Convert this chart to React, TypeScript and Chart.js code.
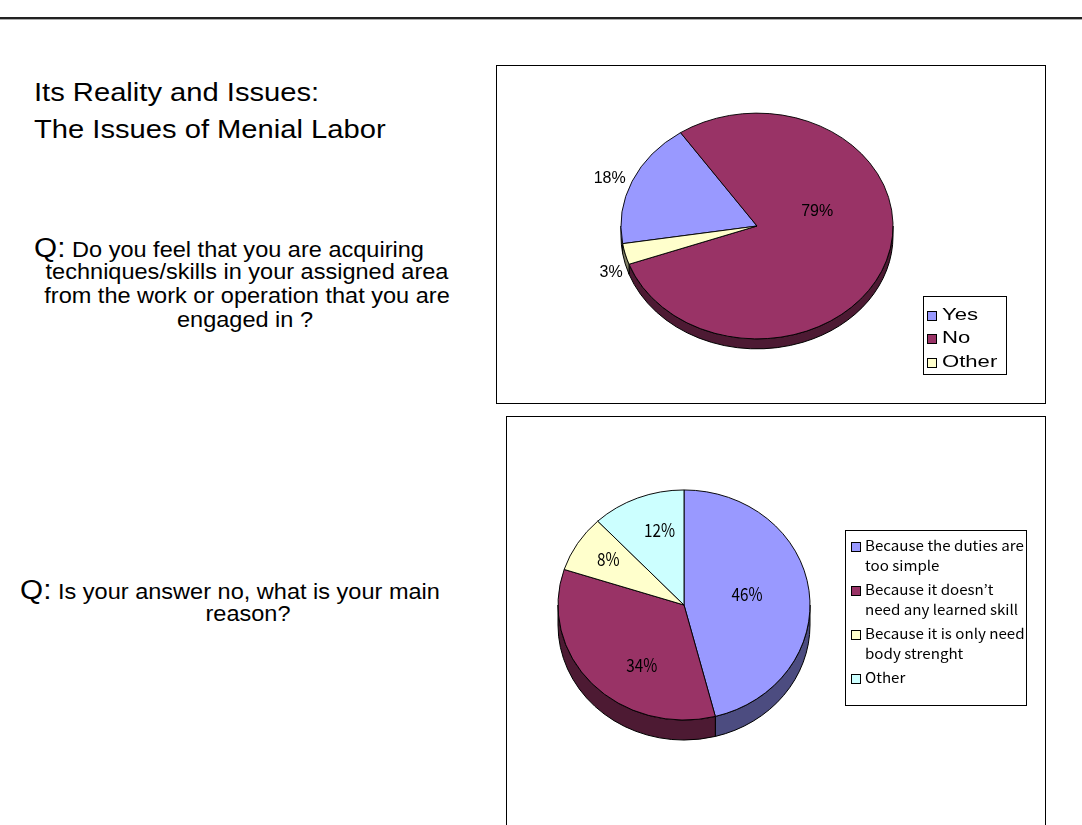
import React, { useEffect, useRef } from 'react';
import { Chart, registerables } from 'chart.js';

Chart.register(...registerables);

// ---------- data ----------
const q1Labels = ['Yes', 'No', 'Other'];
const q1Values = [18, 79, 3];

const q2Labels = [
  'Because the duties are too simple',
  'Because it doesn’t need any learned skill',
  'Because it is only need body strenght',
  'Other',
];
const q2Values = [46, 34, 8, 12];

// ---------- styles ----------
const q1Colors = ['#9999FF', '#993366', '#FFFFCC'];
const q1Sides = ['#4C4C80', '#4D1A33', '#808066'];
const q2Colors = ['#9999FF', '#993366', '#FFFFCC', '#CCFFFF'];
const q2Sides = ['#4C4C80', '#4D1A33', '#808066', '#668080'];

function frontRanges(s: number, e: number): [number, number][] {
  const out: [number, number][] = [];
  for (let n = -2; n <= 3; n++) {
    const lo = Math.max(s, 2 * Math.PI * n);
    const hi = Math.min(e, Math.PI + 2 * Math.PI * n);
    if (hi > lo) out.push([lo, hi]);
  }
  return out;
}

function stretchText(ctx: CanvasRenderingContext2D, text: string, x: number, y: number, sx: number, align: CanvasTextAlign) {
  ctx.save();
  ctx.translate(x, y);
  ctx.scale(sx, 1);
  ctx.textAlign = align;
  ctx.fillText(text, 0, 0);
  ctx.restore();
}

const tiltPlugin = {
  id: 'tilt3d',
  beforeDatasetsDraw(chart: any, _args: any, opts: any) {
    const arcs = chart.getDatasetMeta(0).data as any[];
    const ctx: CanvasRenderingContext2D = chart.ctx;
    if (!arcs.length) return;
    const { x: cx, y: cy, outerRadius: r } = arcs[0];
    const k = opts.tilt;
    const d = opts.depth;
    ctx.save();
    ctx.lineWidth = 1;
    ctx.strokeStyle = '#000';
    arcs.forEach((el: any, i: number) => {
      frontRanges(el.startAngle, el.endAngle).forEach(([a, b]) => {
        ctx.beginPath();
        ctx.ellipse(cx, cy, r, r * k, 0, a, b);
        ctx.lineTo(cx + r * Math.cos(b), cy + d + r * k * Math.sin(b));
        ctx.ellipse(cx, cy + d, r, r * k, 0, b, a, true);
        ctx.closePath();
        ctx.fillStyle = opts.sideColors[i];
        ctx.fill();
        ctx.stroke();
      });
    });
    ctx.restore();
    ctx.save();
    ctx.translate(0, cy);
    ctx.scale(1, k);
    ctx.translate(0, -cy);
  },
  afterDatasetsDraw(chart: any) {
    chart.ctx.restore();
  },
};

const labelPlugin = {
  id: 'pieLabels',
  afterDraw(chart: any, _args: any, opts: any) {
    const arcs = chart.getDatasetMeta(0).data as any[];
    const ctx: CanvasRenderingContext2D = chart.ctx;
    const vals: number[] = chart.data.datasets[0].data;
    const total = vals.reduce((a, b) => a + b, 0);
    const k = chart.options.plugins.tilt3d.tilt;
    ctx.save();
    ctx.font = opts.font;
    ctx.fillStyle = '#000';
    ctx.textBaseline = 'middle';
    arcs.forEach((el: any, i: number) => {
      const p = opts.place[i];
      const mid = (el.startAngle + el.endAngle) / 2 + (p.da * Math.PI) / 180;
      const rr = el.outerRadius * p.r;
      const x = el.x + rr * Math.cos(mid);
      const y = el.y + rr * k * Math.sin(mid);
      stretchText(ctx, Math.round((vals[i] / total) * 100) + '%', x, y, opts.sx, 'center');
    });
    ctx.restore();
  },
};

function wrap(ctx: CanvasRenderingContext2D, text: string, maxW: number, sx: number): string[] {
  const words = text.split(' ');
  const lines: string[] = [];
  let cur = '';
  words.forEach((w) => {
    const t = cur ? cur + ' ' + w : w;
    if (cur && ctx.measureText(t).width * sx > maxW) {
      lines.push(cur);
      cur = w;
    } else cur = t;
  });
  if (cur) lines.push(cur);
  return lines;
}

const legendPlugin = {
  id: 'boxLegend',
  afterDraw(chart: any, _args: any, o: any) {
    const ctx: CanvasRenderingContext2D = chart.ctx;
    const labels: string[] = chart.data.labels;
    const colors: string[] = chart.data.datasets[0].backgroundColor;
    ctx.save();
    ctx.fillStyle = '#fff';
    ctx.fillRect(o.x, o.y, o.w, o.h);
    ctx.strokeStyle = '#000';
    ctx.lineWidth = 1;
    ctx.strokeRect(o.x + 0.5, o.y + 0.5, o.w, o.h);
    ctx.font = o.font;
    ctx.textBaseline = 'middle';
    let y = o.y + o.firstY;
    labels.forEach((lab, i) => {
      const lines = wrap(ctx, lab, o.maxW, o.sx);
      ctx.fillStyle = colors[i];
      ctx.fillRect(o.x + o.sqX + 0.5, Math.round(y - o.sq / 2) + 0.5, o.sq, o.sq);
      ctx.strokeStyle = '#000';
      ctx.strokeRect(o.x + o.sqX + 0.5, Math.round(y - o.sq / 2) + 0.5, o.sq, o.sq);
      ctx.fillStyle = '#000';
      lines.forEach((ln, j) => stretchText(ctx, ln, o.x + o.textX, y + j * o.lineH, o.sx, 'left'));
      y += lines.length * o.lineH + o.itemGap;
    });
    ctx.restore();
  },
};

function PieBox(props: any) {
  const ref = useRef<HTMLCanvasElement>(null);
  useEffect(() => {
    const chart = new Chart(ref.current as HTMLCanvasElement, {
      type: 'pie',
      data: {
        labels: props.labels,
        datasets: [
          {
            data: props.values,
            backgroundColor: props.colors,
            borderColor: '#000',
            borderWidth: 1,
          },
        ],
      },
      options: {
        responsive: false,
        animation: false,
        events: [],
        rotation: props.rotation,
        layout: { padding: props.padding },
        plugins: {
          legend: { display: false },
          tooltip: { enabled: false },
          tilt3d: { tilt: props.tilt, depth: props.depth, sideColors: props.sides },
          pieLabels: props.labelOpts,
          boxLegend: props.legendOpts,
        } as any,
      },
      plugins: [tiltPlugin, labelPlugin, legendPlugin],
    });
    return () => chart.destroy();
  }, []);
  return (
    <div style={{ position: 'absolute', border: '1px solid #000', background: '#fff', ...props.box }}>
      <canvas ref={ref} width={props.box.width} height={props.box.height} style={{ display: 'block' }} />
    </div>
  );
}

const lineStyle = (cx: number, top: number): React.CSSProperties => ({
  position: 'absolute',
  left: cx,
  top,
  whiteSpace: 'nowrap',
  fontSize: 21.4,
  lineHeight: '24px',
  transform: 'translateX(-50%) scaleX(1.1)',
});

const Q = ({ children }: any) => <span style={{ fontSize: 27, lineHeight: '24px' }}>{children}</span>;

export default function App() {
  return (
    <div
      style={{
        position: 'absolute',
        left: 0,
        top: 0,
        width: 1082,
        height: 825,
        overflow: 'hidden',
        background: '#fff',
        fontFamily: "'Liberation Sans', Arial, sans-serif",
        color: '#000',
      }}
    >
      <div style={{ position: 'absolute', left: 0, top: 17, width: 1082, height: 2, background: '#222' }} />
      <div style={{ position: 'absolute', left: 0, top: 19, width: 1082, height: 1, background: '#aaa' }} />

      <div
        style={{
          position: 'absolute',
          left: 34,
          top: 74,
          fontSize: 26.5,
          lineHeight: '36.5px',
          whiteSpace: 'nowrap',
          transform: 'scaleX(1.1)',
          transformOrigin: '0 0',
        }}
      >
        <div>Its Reality and Issues:</div>
        <div>The Issues of Menial Labor</div>
      </div>

      <div style={lineStyle(229, 236)}>
        <Q>Q:</Q> Do you feel that you are acquiring
      </div>
      <div style={lineStyle(247, 260)}>techniques/skills in your assigned area</div>
      <div style={lineStyle(247, 284)}>from the work or operation that you are</div>
      <div style={lineStyle(245, 308)}>engaged in ?</div>

      <div style={lineStyle(230, 578)}>
        <Q>Q:</Q> Is your answer no, what is your main
      </div>
      <div style={lineStyle(248, 602)}>reason?</div>

      <PieBox
        labels={q1Labels}
        values={q1Values}
        colors={q1Colors}
        sides={q1Sides}
        rotation={261}
        tilt={0.83}
        depth={10}
        box={{ left: 496, top: 65, width: 548, height: 337 }}
        padding={{ left: 123.5, right: 151.5, top: 23.5, bottom: 40.5 }}
        labelOpts={{
          font: "16px 'Liberation Sans', Arial, sans-serif",
          sx: 1.0,
          place: [
            { r: 1.16, da: -2.4 },
            { r: 0.46, da: -33.7 },
            { r: 1.15, da: -6.8 },
          ],
        }}
        legendOpts={{
          x: 426,
          y: 230,
          w: 83,
          h: 78,
          font: "17px 'Liberation Sans', Arial, sans-serif",
          sx: 1.3,
          maxW: 200,
          sq: 9,
          sqX: 4,
          textX: 19,
          firstY: 19,
          lineH: 23.5,
          itemGap: 0,
        }}
      />

      <PieBox
        labels={q2Labels}
        values={q2Values}
        colors={q2Colors}
        sides={q2Sides}
        rotation={0}
        tilt={0.913}
        depth={20}
        box={{ left: 506, top: 416, width: 538, height: 420 }}
        padding={{ left: 50.5, right: 234.5, top: 61.5, bottom: 105.5 }}
        labelOpts={{
          font: "18px 'Noto Sans CJK JP', sans-serif",
          sx: 0.85,
          place: [
            { r: 0.51, da: -3.6 },
            { r: 0.62, da: -14 },
            { r: 0.72, da: 1 },
            { r: 0.68, da: 5 },
          ],
        }}
        legendOpts={{
          x: 338,
          y: 113,
          w: 181,
          h: 175,
          font: "14px 'Noto Sans CJK JP', sans-serif",
          sx: 1.08,
          maxW: 162,
          sq: 9,
          sqX: 6,
          textX: 20,
          firstY: 16,
          lineH: 20,
          itemGap: 4,
        }}
      />
    </div>
  );
}
